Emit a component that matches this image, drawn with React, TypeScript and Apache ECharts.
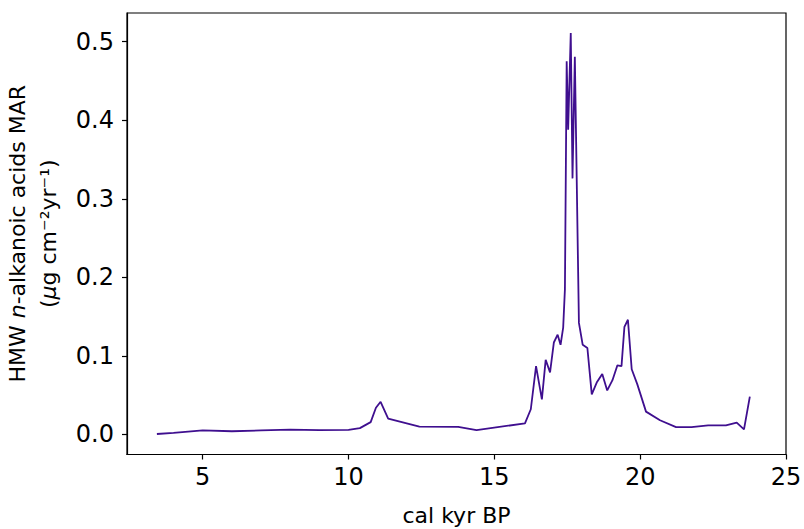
import React, { useEffect, useRef } from "react";
import * as echarts from "echarts";

const ages: number[] = [
  3.43, 4.0, 5.0, 6.0, 7.0, 8.0, 9.0, 10.0, 10.39, 10.76, 10.94, 11.1, 11.36,
  12.43, 13.76, 14.39, 16.05, 16.25, 16.43, 16.63, 16.76, 16.91, 17.04, 17.17,
  17.27, 17.36, 17.42, 17.48, 17.53, 17.62, 17.68, 17.76, 17.9, 18.03, 18.19,
  18.34, 18.51, 18.7, 18.87, 19.05, 19.22, 19.36, 19.46, 19.58, 19.71, 19.9,
  20.2, 20.68, 21.23, 21.76, 22.33, 22.94, 23.31, 23.56, 23.76,
];
const mar: number[] = [
  0.0005, 0.002, 0.005, 0.004, 0.005, 0.006, 0.0055, 0.0058, 0.008, 0.0156,
  0.034, 0.0415, 0.02, 0.0098, 0.0095, 0.0055, 0.014, 0.032, 0.087, 0.0445,
  0.095, 0.079, 0.117, 0.127, 0.114, 0.136, 0.185, 0.475, 0.388, 0.511, 0.326,
  0.481, 0.142, 0.114, 0.11, 0.051, 0.066, 0.077, 0.056, 0.069, 0.088, 0.087,
  0.137, 0.146, 0.083, 0.064, 0.029, 0.018, 0.0093, 0.0093, 0.0114, 0.0114,
  0.0149, 0.0064, 0.048,
];
const xTicks: number[] = [5, 10, 15, 20, 25];
const yTicks: number[] = [0, 0.1, 0.2, 0.3, 0.4, 0.5];

const FONT = "DejaVu Sans";

export default function App() {
  const ref = useRef<HTMLDivElement>(null);
  useEffect(() => {
    if (!ref.current) return;
    const chart = echarts.init(ref.current, null, { renderer: "svg" });
    const data = ages.map((a, i) => [a, mar[i]]);
    chart.setOption({
      animation: false,
      backgroundColor: "#ffffff",
      grid: {
        left: 127,
        top: 13,
        right: 18,
        bottom: 74.5,
        containLabel: false,
        outerBoundsMode: "none",
        show: true,
        borderColor: "#000",
        borderWidth: 1.2,
        backgroundColor: "transparent",
      },
      xAxis: {
        type: "value",
        min: 2.405,
        max: 25,
        name: "cal kyr BP",
        nameLocation: "middle",
        nameGap: 50,
        nameTextStyle: { fontFamily: FONT, fontSize: 22, color: "#000" },
        axisLine: { show: true, onZero: false, lineStyle: { color: "#000", width: 1.2 } },
        axisTick: {
          show: true,
          inside: false,
          length: 5,
          customValues: xTicks,
          lineStyle: { color: "#000", width: 1.2 },
        },
        axisLabel: {
          customValues: xTicks,
          margin: 10,
          fontFamily: FONT,
          fontSize: 24,
          color: "#000",
          formatter: (v: number) => String(v),
        },
        splitLine: { show: false },
      },
      yAxis: {
        type: "value",
        min: -0.0256,
        max: 0.5366,
        name:
          "{a|HMW }{i|n}{a|-alkanoic acids MAR}\n{a|(}{i|μ}{a|g cm⁻²yr⁻¹)}",
        nameLocation: "middle",
        nameGap: 63,
        nameRotate: 90,
        nameTextStyle: {
          fontFamily: FONT,
          fontSize: 22,
          color: "#000",
          lineHeight: 31,
          rich: {
            a: { fontFamily: FONT, fontSize: 22, color: "#000", lineHeight: 31 },
            i: {
              fontFamily: FONT,
              fontSize: 22,
              fontStyle: "italic",
              color: "#000",
              lineHeight: 31,
            },
          },
        },
        axisLine: { show: true, onZero: false, lineStyle: { color: "#000", width: 1.2 } },
        axisTick: {
          show: true,
          inside: false,
          length: 5,
          customValues: yTicks,
          lineStyle: { color: "#000", width: 1.2 },
        },
        axisLabel: {
          customValues: yTicks,
          margin: 13,
          fontFamily: FONT,
          fontSize: 24,
          color: "#000",
          formatter: (v: number) => v.toFixed(1),
        },
        splitLine: { show: false },
      },
      series: [
        {
          type: "line",
          data,
          showSymbol: false,
          symbol: "none",
          lineStyle: { color: "#3f0f8f", width: 1.8 },
        },
      ],
    });
    return () => chart.dispose();
  }, []);
  return (
    <div
      ref={ref}
      style={{ position: "fixed", left: 0, top: 0, width: 804, height: 529 }}
    />
  );
}
